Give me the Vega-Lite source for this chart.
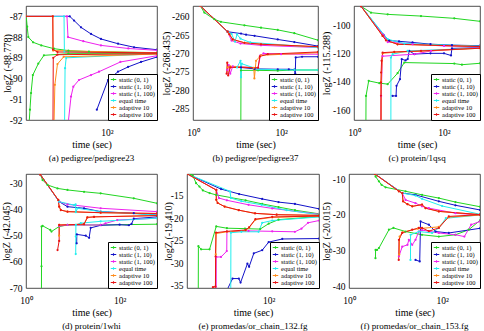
{
"$schema":"https://vega.github.io/schema/vega-lite/v6.json",
"background":"white",
"padding":{"left":0,"top":5,"right":0,"bottom":0},
"spacing":10,
"datasets":{
"a":[
{"m":"G","b":"U","t":1.62,"v":-87},{"m":"G","b":"U","t":1.7,"v":-87.5},{"m":"G","b":"U","t":1.8,"v":-88},{"m":"G","b":"U","t":2.3,"v":-88.25},{"m":"G","b":"U","t":3.5,"v":-88.4},{"m":"G","b":"U","t":6.7,"v":-88.56},{"m":"G","b":"U","t":14,"v":-88.65},{"m":"G","b":"U","t":40,"v":-88.7},{"m":"G","b":"U","t":1300,"v":-88.75},
{"m":"G","b":"L","t":1.86,"v":-92.3},{"m":"G","b":"L","t":1.96,"v":-91.5},{"m":"G","b":"L","t":2.07,"v":-90.7},{"m":"G","b":"L","t":2.27,"v":-89.83},{"m":"G","b":"L","t":3.0,"v":-89.28},{"m":"G","b":"L","t":4.0,"v":-88.88},{"m":"G","b":"L","t":14,"v":-88.8},{"m":"G","b":"L","t":1300,"v":-88.8},
{"m":"B","b":"U","t":1.6,"v":-87},{"m":"B","b":"U","t":15,"v":-87},{"m":"B","b":"U","t":18.7,"v":-87.2},{"m":"B","b":"U","t":26.7,"v":-87.53},{"m":"B","b":"U","t":44.5,"v":-87.85},{"m":"B","b":"U","t":74,"v":-88.09},{"m":"B","b":"U","t":177,"v":-88.32},{"m":"B","b":"U","t":402,"v":-88.49},{"m":"B","b":"U","t":1300,"v":-88.61},
{"m":"B","b":"L","t":60,"v":-91.5},{"m":"B","b":"L","t":106,"v":-90.07},{"m":"B","b":"L","t":177,"v":-89.67},{"m":"B","b":"L","t":296,"v":-89.44},{"m":"B","b":"L","t":575,"v":-89.2},{"m":"B","b":"L","t":1300,"v":-88.96},
{"m":"M","b":"U","t":1.6,"v":-87},{"m":"M","b":"U","t":13,"v":-87},{"m":"M","b":"U","t":13.7,"v":-88},{"m":"M","b":"U","t":30,"v":-88.2},{"m":"M","b":"U","t":74,"v":-88.4},{"m":"M","b":"U","t":300,"v":-88.55},{"m":"M","b":"U","t":1300,"v":-88.64},
{"m":"M","b":"L","t":13.6,"v":-92.3},{"m":"M","b":"L","t":16,"v":-90.87},{"m":"M","b":"L","t":18,"v":-90.39},{"m":"M","b":"L","t":24,"v":-90.07},{"m":"M","b":"L","t":44.5,"v":-89.83},{"m":"M","b":"L","t":67,"v":-89.67},{"m":"M","b":"L","t":200,"v":-89.2},{"m":"M","b":"L","t":1300,"v":-88.9},
{"m":"C","b":"U","t":1.6,"v":-87},{"m":"C","b":"U","t":11.2,"v":-87},{"m":"C","b":"U","t":11.4,"v":-88.7},{"m":"C","b":"U","t":1300,"v":-88.77},
{"m":"C","b":"L","t":11.5,"v":-92.3},{"m":"C","b":"L","t":11.8,"v":-89.5},{"m":"C","b":"L","t":12.5,"v":-89},{"m":"C","b":"L","t":1300,"v":-88.8},
{"m":"O","b":"U","t":1.6,"v":-87},{"m":"O","b":"U","t":6.3,"v":-87},{"m":"O","b":"U","t":6.4,"v":-88.65},{"m":"O","b":"U","t":1300,"v":-88.76},
{"m":"O","b":"L","t":6.7,"v":-92.3},{"m":"O","b":"L","t":7.0,"v":-90.3},{"m":"O","b":"L","t":8,"v":-89.3},{"m":"O","b":"L","t":11,"v":-88.95},{"m":"O","b":"L","t":1300,"v":-88.82},
{"m":"R","b":"U","t":1.6,"v":-87},{"m":"R","b":"U","t":6.3,"v":-87},{"m":"R","b":"U","t":6.37,"v":-88.6},{"m":"R","b":"U","t":8,"v":-88.72},{"m":"R","b":"U","t":1300,"v":-88.76},
{"m":"R","b":"L","t":6.35,"v":-92.3},{"m":"R","b":"L","t":6.45,"v":-89},{"m":"R","b":"L","t":8,"v":-88.85},{"m":"R","b":"L","t":1300,"v":-88.8}
],
"b":[
{"m":"G","b":"U","t":1.45,"v":-257},{"m":"G","b":"U","t":1.81,"v":-258.9},{"m":"G","b":"U","t":3.05,"v":-260.7},{"m":"G","b":"U","t":4.3,"v":-261.4},{"m":"G","b":"U","t":14.7,"v":-262.35},{"m":"G","b":"U","t":35,"v":-263},{"m":"G","b":"U","t":84,"v":-263.6},{"m":"G","b":"U","t":200,"v":-264.5},{"m":"G","b":"U","t":690,"v":-266.4},
{"m":"G","b":"L","t":12.2,"v":-289},{"m":"G","b":"L","t":12.3,"v":-274.6},{"m":"G","b":"L","t":30,"v":-274.6},{"m":"G","b":"L","t":84,"v":-274.7},{"m":"G","b":"L","t":200,"v":-274.5},{"m":"G","b":"L","t":690,"v":-274.5},
{"m":"B","b":"U","t":1.45,"v":-257},{"m":"B","b":"U","t":6.1,"v":-264.1},{"m":"B","b":"U","t":12.3,"v":-264.6},{"m":"B","b":"U","t":16,"v":-264.9},{"m":"B","b":"U","t":25,"v":-265.2},{"m":"B","b":"U","t":84,"v":-266.2},{"m":"B","b":"U","t":200,"v":-266.9},{"m":"B","b":"U","t":690,"v":-268},
{"m":"B","b":"L","t":12.3,"v":-273.8},{"m":"B","b":"L","t":25,"v":-274.2},{"m":"B","b":"L","t":84,"v":-274.3},{"m":"B","b":"L","t":150,"v":-274.3},{"m":"B","b":"L","t":201,"v":-274.4},{"m":"B","b":"L","t":210,"v":-275.5},{"m":"B","b":"L","t":215,"v":-271.1},{"m":"B","b":"L","t":300,"v":-270.9},{"m":"B","b":"L","t":690,"v":-270.9},
{"m":"M","b":"U","t":1.45,"v":-257},{"m":"M","b":"U","t":6.1,"v":-264.1},{"m":"M","b":"U","t":7.5,"v":-266.5},{"m":"M","b":"U","t":12,"v":-267.3},{"m":"M","b":"U","t":35,"v":-267.8},{"m":"M","b":"U","t":690,"v":-268.4},
{"m":"M","b":"L","t":6.0,"v":-274.5},{"m":"M","b":"L","t":6.5,"v":-273.2},{"m":"M","b":"L","t":7.0,"v":-275.5},{"m":"M","b":"L","t":8,"v":-273.5},{"m":"M","b":"L","t":30,"v":-273.9},{"m":"M","b":"L","t":34,"v":-270.5},{"m":"M","b":"L","t":40,"v":-270},{"m":"M","b":"L","t":100,"v":-270.2},{"m":"M","b":"L","t":690,"v":-270.2},
{"m":"C","b":"U","t":1.45,"v":-257},{"m":"C","b":"U","t":6.1,"v":-264.1},{"m":"C","b":"U","t":7.5,"v":-264.7},{"m":"C","b":"U","t":9,"v":-266.8},{"m":"C","b":"U","t":10,"v":-264.8},{"m":"C","b":"U","t":12,"v":-266},{"m":"C","b":"U","t":20,"v":-267},{"m":"C","b":"U","t":690,"v":-268.4},
{"m":"C","b":"L","t":10,"v":-273.8},{"m":"C","b":"L","t":12,"v":-272},{"m":"C","b":"L","t":12.3,"v":-276.5},{"m":"C","b":"L","t":12.8,"v":-272.8},{"m":"C","b":"L","t":30,"v":-274.3},{"m":"C","b":"L","t":200,"v":-274.5},{"m":"C","b":"L","t":690,"v":-274.5},
{"m":"O","b":"U","t":1.45,"v":-257},{"m":"O","b":"U","t":6.1,"v":-264.1},{"m":"O","b":"U","t":6.7,"v":-264.8},{"m":"O","b":"U","t":8,"v":-266.2},{"m":"O","b":"U","t":14.7,"v":-267.1},{"m":"O","b":"U","t":35,"v":-267.5},{"m":"O","b":"U","t":690,"v":-268.2},
{"m":"O","b":"L","t":6.1,"v":-273.8},{"m":"O","b":"L","t":7,"v":-273.5},{"m":"O","b":"L","t":24,"v":-273.9},{"m":"O","b":"L","t":24.8,"v":-276.8},{"m":"O","b":"L","t":27,"v":-272},{"m":"O","b":"L","t":35,"v":-270.5},{"m":"O","b":"L","t":690,"v":-269.8},
{"m":"R","b":"U","t":1.45,"v":-257},{"m":"R","b":"U","t":6.13,"v":-264.1},{"m":"R","b":"U","t":6.7,"v":-264.8},{"m":"R","b":"U","t":7.97,"v":-266.2},{"m":"R","b":"U","t":14.7,"v":-267.1},{"m":"R","b":"U","t":35,"v":-267.5},{"m":"R","b":"U","t":690,"v":-268.15},
{"m":"R","b":"L","t":5.8,"v":-275.5},{"m":"R","b":"L","t":6.0,"v":-272.5},{"m":"R","b":"L","t":6.3,"v":-276},{"m":"R","b":"L","t":7,"v":-273.8},{"m":"R","b":"L","t":30,"v":-273.9},{"m":"R","b":"L","t":33,"v":-270.8},{"m":"R","b":"L","t":50,"v":-270.2},{"m":"R","b":"L","t":690,"v":-269.6}
],
"c":[
{"m":"G","b":"U","t":1.43,"v":-86.7},{"m":"G","b":"U","t":2.38,"v":-91.3},{"m":"G","b":"U","t":5.6,"v":-92.5},{"m":"G","b":"U","t":30.8,"v":-93.7},{"m":"G","b":"U","t":169,"v":-95.3},{"m":"G","b":"U","t":630,"v":-97.4},
{"m":"G","b":"L","t":1.84,"v":-168},{"m":"G","b":"L","t":1.85,"v":-150},{"m":"G","b":"L","t":2.12,"v":-139.4},{"m":"G","b":"L","t":3.66,"v":-141},{"m":"G","b":"L","t":5.6,"v":-141.7},{"m":"G","b":"L","t":9.3,"v":-134},{"m":"G","b":"L","t":13.1,"v":-126.5},{"m":"G","b":"L","t":169,"v":-127.2},{"m":"G","b":"L","t":250,"v":-128},{"m":"G","b":"L","t":630,"v":-127},
{"m":"B","b":"U","t":1.43,"v":-86.7},{"m":"B","b":"U","t":4.5,"v":-107},{"m":"B","b":"U","t":6,"v":-111},{"m":"B","b":"U","t":10,"v":-111.5},{"m":"B","b":"U","t":20,"v":-112.3},{"m":"B","b":"U","t":50,"v":-113.5},{"m":"B","b":"U","t":150,"v":-114.2},{"m":"B","b":"U","t":630,"v":-114.6},
{"m":"B","b":"L","t":7.2,"v":-150},{"m":"B","b":"L","t":8.6,"v":-150},{"m":"B","b":"L","t":8.8,"v":-142.9},{"m":"B","b":"L","t":10.5,"v":-138.2},{"m":"B","b":"L","t":11.5,"v":-124.1},{"m":"B","b":"L","t":14,"v":-125},{"m":"B","b":"L","t":15.6,"v":-124},{"m":"B","b":"L","t":16.9,"v":-118.3},{"m":"B","b":"L","t":21.9,"v":-120.5},{"m":"B","b":"L","t":50,"v":-120},{"m":"B","b":"L","t":100,"v":-120},{"m":"B","b":"L","t":143,"v":-121.5},{"m":"B","b":"L","t":150,"v":-116.5},{"m":"B","b":"L","t":630,"v":-116},
{"m":"M","b":"U","t":1.43,"v":-86.7},{"m":"M","b":"U","t":4.5,"v":-107},{"m":"M","b":"U","t":5.6,"v":-112},{"m":"M","b":"U","t":20,"v":-113.5},{"m":"M","b":"U","t":100,"v":-114.8},{"m":"M","b":"U","t":630,"v":-115.2},
{"m":"M","b":"L","t":3.97,"v":-168},{"m":"M","b":"L","t":4.0,"v":-150},{"m":"M","b":"L","t":4.3,"v":-122},{"m":"M","b":"L","t":21.9,"v":-120.6},{"m":"M","b":"L","t":51.4,"v":-118.3},{"m":"M","b":"L","t":630,"v":-116},
{"m":"C","b":"U","t":1.43,"v":-86.7},{"m":"C","b":"U","t":5.6,"v":-110},{"m":"C","b":"U","t":13.1,"v":-113.1},{"m":"C","b":"U","t":630,"v":-114.9},
{"m":"C","b":"L","t":6.6,"v":-168},{"m":"C","b":"L","t":6.62,"v":-123},{"m":"C","b":"L","t":7.2,"v":-120.6},{"m":"C","b":"L","t":15.6,"v":-118.3},{"m":"C","b":"L","t":630,"v":-116.3},
{"m":"O","b":"U","t":1.43,"v":-86.7},{"m":"O","b":"U","t":4.33,"v":-107.7},{"m":"O","b":"U","t":5.14,"v":-110.8},{"m":"O","b":"U","t":9.3,"v":-113.6},{"m":"O","b":"U","t":630,"v":-115.2},
{"m":"O","b":"L","t":3.99,"v":-168},{"m":"O","b":"L","t":4.0,"v":-140},{"m":"O","b":"L","t":4.33,"v":-120},{"m":"O","b":"L","t":7.86,"v":-119.2},{"m":"O","b":"L","t":30.8,"v":-118.5},{"m":"O","b":"L","t":630,"v":-116.4},
{"m":"R","b":"U","t":1.43,"v":-86.7},{"m":"R","b":"U","t":4.33,"v":-107.7},{"m":"R","b":"U","t":5.14,"v":-110.8},{"m":"R","b":"U","t":9.3,"v":-113.6},{"m":"R","b":"U","t":630,"v":-115.2},
{"m":"R","b":"L","t":3.975,"v":-168},{"m":"R","b":"L","t":3.98,"v":-149.9},{"m":"R","b":"L","t":3.985,"v":-140.5},{"m":"R","b":"L","t":4.0,"v":-133.5},{"m":"R","b":"L","t":4.1,"v":-125.3},{"m":"R","b":"L","t":4.33,"v":-119.5},{"m":"R","b":"L","t":7.86,"v":-119},{"m":"R","b":"L","t":30.8,"v":-118.3},{"m":"R","b":"L","t":630,"v":-116.4}
],
"d":[
{"m":"G","b":"U","t":2.02,"v":-26.6},{"m":"G","b":"U","t":2.26,"v":-28.7},{"m":"G","b":"U","t":2.89,"v":-30.6},{"m":"G","b":"U","t":4.7,"v":-31.9},{"m":"G","b":"U","t":7.7,"v":-32.5},{"m":"G","b":"U","t":17.4,"v":-33.2},{"m":"G","b":"U","t":39.4,"v":-33.8},{"m":"G","b":"U","t":201,"v":-35.7},{"m":"G","b":"U","t":630,"v":-37.6},
{"m":"G","b":"L","t":2.14,"v":-71},{"m":"G","b":"L","t":2.145,"v":-61.7},{"m":"G","b":"L","t":2.15,"v":-46.5},{"m":"G","b":"L","t":2.26,"v":-46.2},{"m":"G","b":"L","t":3.3,"v":-47.8},{"m":"G","b":"L","t":3.5,"v":-48.4},{"m":"G","b":"L","t":5.1,"v":-46.5},{"m":"G","b":"L","t":7.7,"v":-45.9},{"m":"G","b":"L","t":39.4,"v":-45.9},{"m":"G","b":"L","t":630,"v":-45.6},
{"m":"B","b":"U","t":2.02,"v":-26.6},{"m":"B","b":"U","t":5.12,"v":-37},{"m":"B","b":"U","t":7.7,"v":-38.9},{"m":"B","b":"U","t":17.4,"v":-39.5},{"m":"B","b":"U","t":39.4,"v":-40.8},{"m":"B","b":"U","t":201,"v":-41.4},{"m":"B","b":"U","t":630,"v":-42.1},
{"m":"B","b":"L","t":12.1,"v":-52.9},{"m":"B","b":"L","t":12.2,"v":-49.5},{"m":"B","b":"L","t":18.9,"v":-50},{"m":"B","b":"L","t":22.3,"v":-50.8},{"m":"B","b":"L","t":24.1,"v":-47},{"m":"B","b":"L","t":40,"v":-46},{"m":"B","b":"L","t":100,"v":-45.8},{"m":"B","b":"L","t":158,"v":-46},{"m":"B","b":"L","t":180,"v":-45.5},{"m":"B","b":"L","t":201,"v":-43.5},{"m":"B","b":"L","t":630,"v":-42.8},
{"m":"M","b":"U","t":2.02,"v":-26.6},{"m":"M","b":"U","t":5.12,"v":-37},{"m":"M","b":"U","t":7.7,"v":-38},{"m":"M","b":"U","t":39.4,"v":-39.5},{"m":"M","b":"U","t":630,"v":-40.8},
{"m":"M","b":"L","t":5.13,"v":-46.3},{"m":"M","b":"L","t":7.7,"v":-45.9},{"m":"M","b":"L","t":39.4,"v":-45.9},{"m":"M","b":"L","t":50,"v":-45.3},{"m":"M","b":"L","t":89,"v":-44},{"m":"M","b":"L","t":630,"v":-43.3},
{"m":"C","b":"U","t":2.02,"v":-26.6},{"m":"C","b":"U","t":5.12,"v":-37},{"m":"C","b":"U","t":10.7,"v":-38.3},{"m":"C","b":"U","t":11.5,"v":-38},{"m":"C","b":"U","t":11.6,"v":-41},{"m":"C","b":"U","t":12.6,"v":-39.5},{"m":"C","b":"U","t":39.4,"v":-40.8},{"m":"C","b":"U","t":630,"v":-42.1},
{"m":"C","b":"L","t":11.55,"v":-57},{"m":"C","b":"L","t":11.6,"v":-50.3},{"m":"C","b":"L","t":11.65,"v":-45.9},{"m":"C","b":"L","t":14.8,"v":-45.2},{"m":"C","b":"L","t":39.4,"v":-44.5},{"m":"C","b":"L","t":630,"v":-43.3},
{"m":"O","b":"U","t":2.02,"v":-26.6},{"m":"O","b":"U","t":4.88,"v":-36.3},{"m":"O","b":"U","t":5.12,"v":-38.9},{"m":"O","b":"U","t":5.55,"v":-40.2},{"m":"O","b":"U","t":7.7,"v":-40.8},{"m":"O","b":"U","t":39.4,"v":-41.2},{"m":"O","b":"U","t":630,"v":-41.5},
{"m":"O","b":"L","t":5.1,"v":-50},{"m":"O","b":"L","t":5.12,"v":-45.9},{"m":"O","b":"L","t":17.4,"v":-45.6},{"m":"O","b":"L","t":20.5,"v":-43},{"m":"O","b":"L","t":28.4,"v":-42.8},{"m":"O","b":"L","t":630,"v":-42.3},
{"m":"R","b":"U","t":2.02,"v":-26.6},{"m":"R","b":"U","t":4.88,"v":-36.3},{"m":"R","b":"U","t":5.12,"v":-38.9},{"m":"R","b":"U","t":5.55,"v":-40.2},{"m":"R","b":"U","t":7.7,"v":-40.8},{"m":"R","b":"U","t":39.4,"v":-41.2},{"m":"R","b":"U","t":630,"v":-41.5},
{"m":"R","b":"L","t":4.72,"v":-55.5},{"m":"R","b":"L","t":5.11,"v":-52},{"m":"R","b":"L","t":5.12,"v":-45.9},{"m":"R","b":"L","t":17.4,"v":-45.6},{"m":"R","b":"L","t":20.5,"v":-43},{"m":"R","b":"L","t":28.4,"v":-42.8},{"m":"R","b":"L","t":630,"v":-42.3}
],
"e":[
{"m":"G","b":"U","t":1.9,"v":-10.1},{"m":"G","b":"U","t":2.12,"v":-10.5},{"m":"G","b":"U","t":2.51,"v":-12.2},{"m":"G","b":"U","t":2.97,"v":-12.95},{"m":"G","b":"U","t":3.54,"v":-13.8},{"m":"G","b":"U","t":4.97,"v":-14.4},{"m":"G","b":"U","t":6.98,"v":-14.8},{"m":"G","b":"U","t":31,"v":-16},{"m":"G","b":"U","t":72,"v":-16.8},{"m":"G","b":"U","t":165,"v":-17.5},{"m":"G","b":"U","t":380,"v":-18.2},{"m":"G","b":"U","t":1290,"v":-19},
{"m":"G","b":"L","t":2.8,"v":-36},{"m":"G","b":"L","t":2.82,"v":-26.2},{"m":"G","b":"L","t":3.24,"v":-26.9},{"m":"G","b":"L","t":4.97,"v":-26.9},{"m":"G","b":"L","t":6.98,"v":-21.8},{"m":"G","b":"L","t":12,"v":-22.2},{"m":"G","b":"L","t":30,"v":-22.3},{"m":"G","b":"L","t":65,"v":-22.4},{"m":"G","b":"L","t":100,"v":-21.2},{"m":"G","b":"L","t":165,"v":-20.3},{"m":"G","b":"L","t":1290,"v":-19.6},
{"m":"B","b":"U","t":1.58,"v":-10.1},{"m":"B","b":"U","t":8.9,"v":-13.5},{"m":"B","b":"U","t":22.3,"v":-14.6},{"m":"B","b":"U","t":72,"v":-15.7},{"m":"B","b":"U","t":165,"v":-16.4},{"m":"B","b":"U","t":380,"v":-16.8},{"m":"B","b":"U","t":1290,"v":-17.9},
{"m":"B","b":"L","t":12,"v":-36},{"m":"B","b":"L","t":16,"v":-33.4},{"m":"B","b":"L","t":22,"v":-33.4},{"m":"B","b":"L","t":24,"v":-34.3},{"m":"B","b":"L","t":34,"v":-30.1},{"m":"B","b":"L","t":37,"v":-30.8},{"m":"B","b":"L","t":47,"v":-27.8},{"m":"B","b":"L","t":72,"v":-27.1},{"m":"B","b":"L","t":100,"v":-25.3},{"m":"B","b":"L","t":200,"v":-24.6},{"m":"B","b":"L","t":1290,"v":-24.5},
{"m":"M","b":"U","t":1.58,"v":-10.1},{"m":"M","b":"U","t":7,"v":-13.7},{"m":"M","b":"U","t":8,"v":-15.5},{"m":"M","b":"U","t":12,"v":-16},{"m":"M","b":"U","t":36,"v":-17},{"m":"M","b":"U","t":120,"v":-17.8},{"m":"M","b":"U","t":1290,"v":-19.1},
{"m":"M","b":"L","t":6.97,"v":-36},{"m":"M","b":"L","t":7,"v":-28.6},{"m":"M","b":"L","t":8.9,"v":-28.6},{"m":"M","b":"L","t":11.9,"v":-27.3},{"m":"M","b":"L","t":12,"v":-23},{"m":"M","b":"L","t":36,"v":-22.8},{"m":"M","b":"L","t":120,"v":-22.9},{"m":"M","b":"L","t":380,"v":-23},{"m":"M","b":"L","t":530,"v":-22.3},{"m":"M","b":"L","t":740,"v":-21},{"m":"M","b":"L","t":1290,"v":-20.5},
{"m":"C","b":"U","t":1.58,"v":-10.1},{"m":"C","b":"U","t":14,"v":-14},{"m":"C","b":"U","t":14.7,"v":-15.5},{"m":"C","b":"U","t":25,"v":-16.2},{"m":"C","b":"U","t":70,"v":-17},{"m":"C","b":"U","t":250,"v":-18.2},{"m":"C","b":"U","t":1290,"v":-19.2},
{"m":"C","b":"L","t":14.6,"v":-36},{"m":"C","b":"L","t":14.7,"v":-23.2},{"m":"C","b":"L","t":25,"v":-23},{"m":"C","b":"L","t":60,"v":-23},{"m":"C","b":"L","t":72,"v":-21},{"m":"C","b":"L","t":120,"v":-20.5},{"m":"C","b":"L","t":1290,"v":-19.7},
{"m":"O","b":"U","t":1.58,"v":-10.1},{"m":"O","b":"U","t":6.98,"v":-13.7},{"m":"O","b":"U","t":7.0,"v":-15.9},{"m":"O","b":"U","t":7.5,"v":-16.6},{"m":"O","b":"U","t":10.7,"v":-17.4},{"m":"O","b":"U","t":22,"v":-18.2},{"m":"O","b":"U","t":50,"v":-18.9},{"m":"O","b":"U","t":150,"v":-19.2},{"m":"O","b":"U","t":1290,"v":-19.35},
{"m":"O","b":"L","t":6.7,"v":-36},{"m":"O","b":"L","t":6.8,"v":-28},{"m":"O","b":"L","t":6.9,"v":-23.4},{"m":"O","b":"L","t":12,"v":-23},{"m":"O","b":"L","t":31,"v":-22.7},{"m":"O","b":"L","t":37,"v":-22.1},{"m":"O","b":"L","t":51,"v":-20.3},{"m":"O","b":"L","t":120,"v":-19.8},{"m":"O","b":"L","t":1290,"v":-19.5},
{"m":"R","b":"U","t":1.58,"v":-10.1},{"m":"R","b":"U","t":6.98,"v":-13.7},{"m":"R","b":"U","t":7.0,"v":-15.9},{"m":"R","b":"U","t":7.5,"v":-16.6},{"m":"R","b":"U","t":10.7,"v":-17.4},{"m":"R","b":"U","t":22,"v":-18.2},{"m":"R","b":"U","t":50,"v":-18.9},{"m":"R","b":"U","t":150,"v":-19.2},{"m":"R","b":"U","t":1290,"v":-19.35},
{"m":"R","b":"L","t":5.9,"v":-35.3},{"m":"R","b":"L","t":6.7,"v":-35.2},{"m":"R","b":"L","t":6.75,"v":-28.5},{"m":"R","b":"L","t":6.9,"v":-23.2},{"m":"R","b":"L","t":12,"v":-22.9},{"m":"R","b":"L","t":31,"v":-22.6},{"m":"R","b":"L","t":37,"v":-22},{"m":"R","b":"L","t":51,"v":-20.2},{"m":"R","b":"L","t":120,"v":-19.7},{"m":"R","b":"L","t":1290,"v":-19.5}
],
"f":[
{"m":"G","b":"U","t":3.6,"v":-8.6},{"m":"G","b":"U","t":3.72,"v":-9.3},{"m":"G","b":"U","t":4.39,"v":-10.65},{"m":"G","b":"U","t":5.0,"v":-11.6},{"m":"G","b":"U","t":6.1,"v":-12.3},{"m":"G","b":"U","t":16.4,"v":-13.4},{"m":"G","b":"U","t":37,"v":-14.4},{"m":"G","b":"U","t":85,"v":-15.3},{"m":"G","b":"U","t":193,"v":-16.4},{"m":"G","b":"U","t":650,"v":-17.7},
{"m":"G","b":"L","t":3.7,"v":-32},{"m":"G","b":"L","t":3.72,"v":-29.7},{"m":"G","b":"L","t":4.0,"v":-29.7},{"m":"G","b":"L","t":4.39,"v":-29.2},{"m":"G","b":"L","t":7.2,"v":-24.1},{"m":"G","b":"L","t":9,"v":-23.6},{"m":"G","b":"L","t":16.4,"v":-24.6},{"m":"G","b":"L","t":37,"v":-25.5},{"m":"G","b":"L","t":85,"v":-26},{"m":"G","b":"L","t":193,"v":-25.5},{"m":"G","b":"L","t":373,"v":-24.1},{"m":"G","b":"L","t":650,"v":-21.5},
{"m":"B","b":"U","t":3.6,"v":-8.6},{"m":"B","b":"U","t":13.9,"v":-13.9},{"m":"B","b":"U","t":26.8,"v":-14.4},{"m":"B","b":"U","t":85,"v":-16.2},{"m":"B","b":"U","t":193,"v":-17.3},{"m":"B","b":"U","t":650,"v":-18.6},
{"m":"B","b":"L","t":26.8,"v":-32.5},{"m":"B","b":"L","t":33,"v":-32.9},{"m":"B","b":"L","t":34.4,"v":-21.8},{"m":"B","b":"L","t":51.8,"v":-22.7},{"m":"B","b":"L","t":72,"v":-24.6},{"m":"B","b":"L","t":139,"v":-25},{"m":"B","b":"L","t":650,"v":-23.7},
{"m":"M","b":"U","t":3.6,"v":-8.6},{"m":"M","b":"U","t":13.9,"v":-13.9},{"m":"M","b":"U","t":16.4,"v":-15.8},{"m":"M","b":"U","t":26.8,"v":-16.7},{"m":"M","b":"U","t":37,"v":-17.6},{"m":"M","b":"U","t":51.8,"v":-18.1},{"m":"M","b":"U","t":193,"v":-19.5},{"m":"M","b":"U","t":650,"v":-20},
{"m":"M","b":"L","t":11.8,"v":-31.5},{"m":"M","b":"L","t":13.9,"v":-28.8},{"m":"M","b":"L","t":18,"v":-28.3},{"m":"M","b":"L","t":19.3,"v":-26.9},{"m":"M","b":"L","t":22.8,"v":-28.3},{"m":"M","b":"L","t":26.8,"v":-26.9},{"m":"M","b":"L","t":31.6,"v":-24.6},{"m":"M","b":"L","t":37,"v":-24.2},{"m":"M","b":"L","t":85,"v":-25},{"m":"M","b":"L","t":193,"v":-25.5},{"m":"M","b":"L","t":300,"v":-26},{"m":"M","b":"L","t":420,"v":-22.7},{"m":"M","b":"L","t":650,"v":-21.8},
{"m":"C","b":"U","t":3.6,"v":-8.6},{"m":"C","b":"U","t":13.9,"v":-13.9},{"m":"C","b":"U","t":26.8,"v":-14.6},{"m":"C","b":"U","t":37,"v":-15.5},{"m":"C","b":"U","t":100,"v":-17.5},{"m":"C","b":"U","t":650,"v":-19.8},
{"m":"C","b":"L","t":20.9,"v":-32.5},{"m":"C","b":"L","t":21,"v":-25.5},{"m":"C","b":"L","t":31.6,"v":-24.6},{"m":"C","b":"L","t":61,"v":-25},{"m":"C","b":"L","t":85,"v":-23.6},{"m":"C","b":"L","t":120,"v":-20.9},{"m":"C","b":"L","t":650,"v":-20},
{"m":"O","b":"U","t":3.6,"v":-8.6},{"m":"O","b":"U","t":11.8,"v":-13.4},{"m":"O","b":"U","t":13.9,"v":-13.9},{"m":"O","b":"U","t":14.5,"v":-16.2},{"m":"O","b":"U","t":18,"v":-17},{"m":"O","b":"U","t":22.8,"v":-17.6},{"m":"O","b":"U","t":37,"v":-17.1},{"m":"O","b":"U","t":44,"v":-18.1},{"m":"O","b":"U","t":85,"v":-19},{"m":"O","b":"U","t":650,"v":-19.9},
{"m":"O","b":"L","t":12,"v":-31},{"m":"O","b":"L","t":12.2,"v":-26},{"m":"O","b":"L","t":14,"v":-24.8},{"m":"O","b":"L","t":30,"v":-23.8},{"m":"O","b":"L","t":85,"v":-23.3},{"m":"O","b":"L","t":139,"v":-20.6},{"m":"O","b":"L","t":650,"v":-20},
{"m":"R","b":"U","t":3.6,"v":-8.6},{"m":"R","b":"U","t":11.8,"v":-13.4},{"m":"R","b":"U","t":13.9,"v":-13.9},{"m":"R","b":"U","t":14.5,"v":-16.2},{"m":"R","b":"U","t":18,"v":-17},{"m":"R","b":"U","t":22.8,"v":-17.6},{"m":"R","b":"U","t":37,"v":-17.1},{"m":"R","b":"U","t":44,"v":-18.1},{"m":"R","b":"U","t":85,"v":-19},{"m":"R","b":"U","t":650,"v":-19.9},
{"m":"R","b":"L","t":11.7,"v":-32.5},{"m":"R","b":"L","t":11.8,"v":-26.9},{"m":"R","b":"L","t":13.9,"v":-25},{"m":"R","b":"L","t":22.8,"v":-24.1},{"m":"R","b":"L","t":31.6,"v":-23.6},{"m":"R","b":"L","t":37,"v":-23.6},{"m":"R","b":"L","t":51.8,"v":-24.5},{"m":"R","b":"L","t":85,"v":-23.6},{"m":"R","b":"L","t":139,"v":-20.4},{"m":"R","b":"L","t":650,"v":-19.9}
]
},
"vconcat":[
{"bounds":"flush","spacing":36,
"resolve":{"scale":{"x":"independent","y":"independent","color":"independent"},"legend":{"color":"independent"}},
"hconcat":[
{"width":131,"height":114,"data":{"name":"a"},"title":"(a) pedigree/pedigree23",
"encoding":{
"x":{"field":"t","type":"quantitative","scale":{"type":"log","domain":[1.6,1300],"nice":false},"axis":{"values":[100],"title":"time (sec)","labelExpr":"datum.value < 10 ? '10⁰' : '10²'"}},
"y":{"field":"v","type":"quantitative","scale":{"domain":[-92,-86.5],"nice":false,"zero":false},"axis":{"values":[-92,-91,-90,-89,-88,-87],"title":"logZ (-88.778)","titleX":-19,"labelExpr":"'-' + abs(datum.value)"}},
"color":{"field":"m","type":"nominal","title":null,"scale":{"domain":["G","B","M","C","O","R"],"range":["#22d622","#1212c8","#ee22ee","#22eeee","#ff8c1a","#e81414"]},
"legend":{"symbolType":"M-1,0H1M0,-0.45V0.45","symbolSize":30,"symbolStrokeWidth":1.1,"labelExpr":"(datum.label=='G'?'static (0, 1)':datum.label=='B'?'static (1, 10)':datum.label=='M'?'static (1, 100)':datum.label=='C'?'equal time':datum.label=='O'?'adaptive 10':'adaptive 100') + '\u00a0\u00a0\u00a0\u00a0\u00a0\u00a0\u00a0\u00a0'"}}
},
"layer":[
{"mark":{"type":"line","clip":true,"strokeWidth":1},"encoding":{"detail":{"field":"b"}}},
{"mark":{"type":"point","clip":true,"filled":true,"size":5,"opacity":1}}
]},
{"width":125,"height":114,"data":{"name":"b"},"title":"(b) pedigree/pedigree37",
"encoding":{
"x":{"field":"t","type":"quantitative","scale":{"type":"log","domain":[1,690],"nice":false},"axis":{"values":[1,100],"title":"time (sec)","labelExpr":"datum.value < 10 ? '10⁰' : '10²'"}},
"y":{"field":"v","type":"quantitative","scale":{"domain":[-288.1,-257.1],"nice":false,"zero":false},"axis":{"values":[-285,-280,-275,-270,-265,-260],"title":"logZ (-268.435)","titleX":-27,"labelExpr":"'-' + abs(datum.value)"}},
"color":{"field":"m","type":"nominal","title":null,"scale":{"domain":["G","B","M","C","O","R"],"range":["#22d622","#1212c8","#ee22ee","#22eeee","#ff8c1a","#e81414"]},
"legend":{"symbolType":"M-1,0H1M0,-0.45V0.45","symbolSize":30,"symbolStrokeWidth":1.1,"labelExpr":"(datum.label=='G'?'static (0, 1)':datum.label=='B'?'static (1, 10)':datum.label=='M'?'static (1, 100)':datum.label=='C'?'equal time':datum.label=='O'?'adaptive 10':'adaptive 100') + '\u00a0\u00a0\u00a0\u00a0\u00a0\u00a0\u00a0\u00a0'"}}
},
"layer":[
{"mark":{"type":"line","clip":true,"strokeWidth":1},"encoding":{"detail":{"field":"b"}}},
{"mark":{"type":"point","clip":true,"filled":true,"size":5,"opacity":1}}
]},
{"width":126,"height":114,"data":{"name":"c"},"title":"(c) protein/1qsq",
"encoding":{
"x":{"field":"t","type":"quantitative","scale":{"type":"log","domain":[1,630],"nice":false},"axis":{"values":[1,100],"title":"time (sec)","labelExpr":"datum.value < 10 ? '10⁰' : '10²'"}},
"y":{"field":"v","type":"quantitative","scale":{"domain":[-167,-86.6],"nice":false,"zero":false},"axis":{"values":[-160,-140,-120,-100],"title":"logZ (-115.288)","titleX":-28,"labelExpr":"'-' + abs(datum.value)"}},
"color":{"field":"m","type":"nominal","title":null,"scale":{"domain":["G","B","M","C","O","R"],"range":["#22d622","#1212c8","#ee22ee","#22eeee","#ff8c1a","#e81414"]},
"legend":{"symbolType":"M-1,0H1M0,-0.45V0.45","symbolSize":30,"symbolStrokeWidth":1.1,"labelExpr":"(datum.label=='G'?'static (0, 1)':datum.label=='B'?'static (1, 10)':datum.label=='M'?'static (1, 100)':datum.label=='C'?'equal time':datum.label=='O'?'adaptive 10':'adaptive 100') + '\u00a0\u00a0\u00a0\u00a0\u00a0\u00a0\u00a0\u00a0'"}}
},
"layer":[
{"mark":{"type":"line","clip":true,"strokeWidth":1},"encoding":{"detail":{"field":"b"}}},
{"mark":{"type":"point","clip":true,"filled":true,"size":5,"opacity":1}}
]}
]},
{"bounds":"flush","spacing":30,
"resolve":{"scale":{"x":"independent","y":"independent","color":"independent"},"legend":{"color":"independent"}},
"hconcat":[
{"width":131,"height":114,"data":{"name":"d"},"title":"(d) protein/1whi",
"encoding":{
"x":{"field":"t","type":"quantitative","scale":{"type":"log","domain":[1,630],"nice":false},"axis":{"values":[1,100],"title":"time (sec)","labelExpr":"datum.value < 10 ? '10⁰' : '10²'"}},
"y":{"field":"v","type":"quantitative","scale":{"domain":[-70,-26.4],"nice":false,"zero":false},"axis":{"values":[-70,-60,-50,-40,-30],"title":"logZ (-42.045)","titleX":-20,"labelExpr":"'-' + abs(datum.value)"}},
"color":{"field":"m","type":"nominal","title":null,"scale":{"domain":["G","B","M","C","O","R"],"range":["#22d622","#1212c8","#ee22ee","#22eeee","#ff8c1a","#e81414"]},
"legend":{"symbolType":"M-1,0H1M0,-0.45V0.45","symbolSize":30,"symbolStrokeWidth":1.1,"labelExpr":"(datum.label=='G'?'static (0, 1)':datum.label=='B'?'static (1, 10)':datum.label=='M'?'static (1, 100)':datum.label=='C'?'equal time':datum.label=='O'?'adaptive 10':'adaptive 100') + '\u00a0\u00a0\u00a0\u00a0\u00a0\u00a0\u00a0\u00a0'"}}
},
"layer":[
{"mark":{"type":"line","clip":true,"strokeWidth":1},"encoding":{"detail":{"field":"b"}}},
{"mark":{"type":"point","clip":true,"filled":true,"size":5,"opacity":1}}
]},
{"width":132,"height":114,"data":{"name":"e"},"title":"(e) promedas/or_chain_132.fg",
"encoding":{
"x":{"field":"t","type":"quantitative","scale":{"type":"log","domain":[1.58,1290],"nice":false},"axis":{"values":[100],"title":"time (sec)","labelExpr":"datum.value < 10 ? '10⁰' : '10²'"}},
"y":{"field":"v","type":"quantitative","scale":{"domain":[-35.5,-10.15],"nice":false,"zero":false},"axis":{"values":[-35,-30,-25,-20,-15],"title":"logZ (-19.410)","titleX":-18.5,"labelExpr":"'-' + abs(datum.value)"}},
"color":{"field":"m","type":"nominal","title":null,"scale":{"domain":["G","B","M","C","O","R"],"range":["#22d622","#1212c8","#ee22ee","#22eeee","#ff8c1a","#e81414"]},
"legend":{"symbolType":"M-1,0H1M0,-0.45V0.45","symbolSize":30,"symbolStrokeWidth":1.1,"labelExpr":"(datum.label=='G'?'static (0, 1)':datum.label=='B'?'static (1, 10)':datum.label=='M'?'static (1, 100)':datum.label=='C'?'equal time':datum.label=='O'?'adaptive 10':'adaptive 100') + '\u00a0\u00a0\u00a0\u00a0\u00a0\u00a0\u00a0\u00a0'"}}
},
"layer":[
{"mark":{"type":"line","clip":true,"strokeWidth":1},"encoding":{"detail":{"field":"b"}}},
{"mark":{"type":"point","clip":true,"filled":true,"size":5,"opacity":1}}
]},
{"width":131,"height":114,"data":{"name":"f"},"title":"(f) promedas/or_chain_153.fg",
"encoding":{
"x":{"field":"t","type":"quantitative","scale":{"type":"log","domain":[1,650],"nice":false},"axis":{"values":[1,100],"title":"time (sec)","labelExpr":"datum.value < 10 ? '10⁰' : '10²'"}},
"y":{"field":"v","type":"quantitative","scale":{"domain":[-40.3,-8.6],"nice":false,"zero":false},"axis":{"values":[-40,-30,-20,-10],"title":"logZ (-20.015)","titleX":-23,"labelExpr":"'-' + abs(datum.value)"}},
"color":{"field":"m","type":"nominal","title":null,"scale":{"domain":["G","B","M","C","O","R"],"range":["#22d622","#1212c8","#ee22ee","#22eeee","#ff8c1a","#e81414"]},
"legend":{"symbolType":"M-1,0H1M0,-0.45V0.45","symbolSize":30,"symbolStrokeWidth":1.1,"labelExpr":"(datum.label=='G'?'static (0, 1)':datum.label=='B'?'static (1, 10)':datum.label=='M'?'static (1, 100)':datum.label=='C'?'equal time':datum.label=='O'?'adaptive 10':'adaptive 100') + '\u00a0\u00a0\u00a0\u00a0\u00a0\u00a0\u00a0\u00a0'"}}
},
"layer":[
{"mark":{"type":"line","clip":true,"strokeWidth":1},"encoding":{"detail":{"field":"b"}}},
{"mark":{"type":"point","clip":true,"filled":true,"size":5,"opacity":1}}
]}
]}
],
"config":{
"view":{"stroke":"#222","strokeWidth":0.8},
"axis":{"grid":false,"domain":false,"ticks":false,"labelFont":"Liberation Serif","titleFont":"Liberation Serif","labelFontSize":9.5,"titleFontSize":10,"titleFontWeight":"normal","labelColor":"#000","titleColor":"#000","labelFlush":false,"labelOverlap":false},
"axisX":{"labelPadding":7,"titlePadding":3},
"axisY":{"labelPadding":4,"titleBaseline":"middle"},
"legend":{"orient":"bottom-right","offset":0,"padding":2,"strokeColor":"#000","fillColor":"#fff","labelFont":"Liberation Serif","labelFontSize":6.5,"rowPadding":-2,"labelOffset":2,"cornerRadius":0,"labelLimit":0},
"title":{"font":"Liberation Serif","fontSize":9,"fontWeight":"normal","orient":"bottom","offset":4,"anchor":"middle","color":"#000"}
}
}
